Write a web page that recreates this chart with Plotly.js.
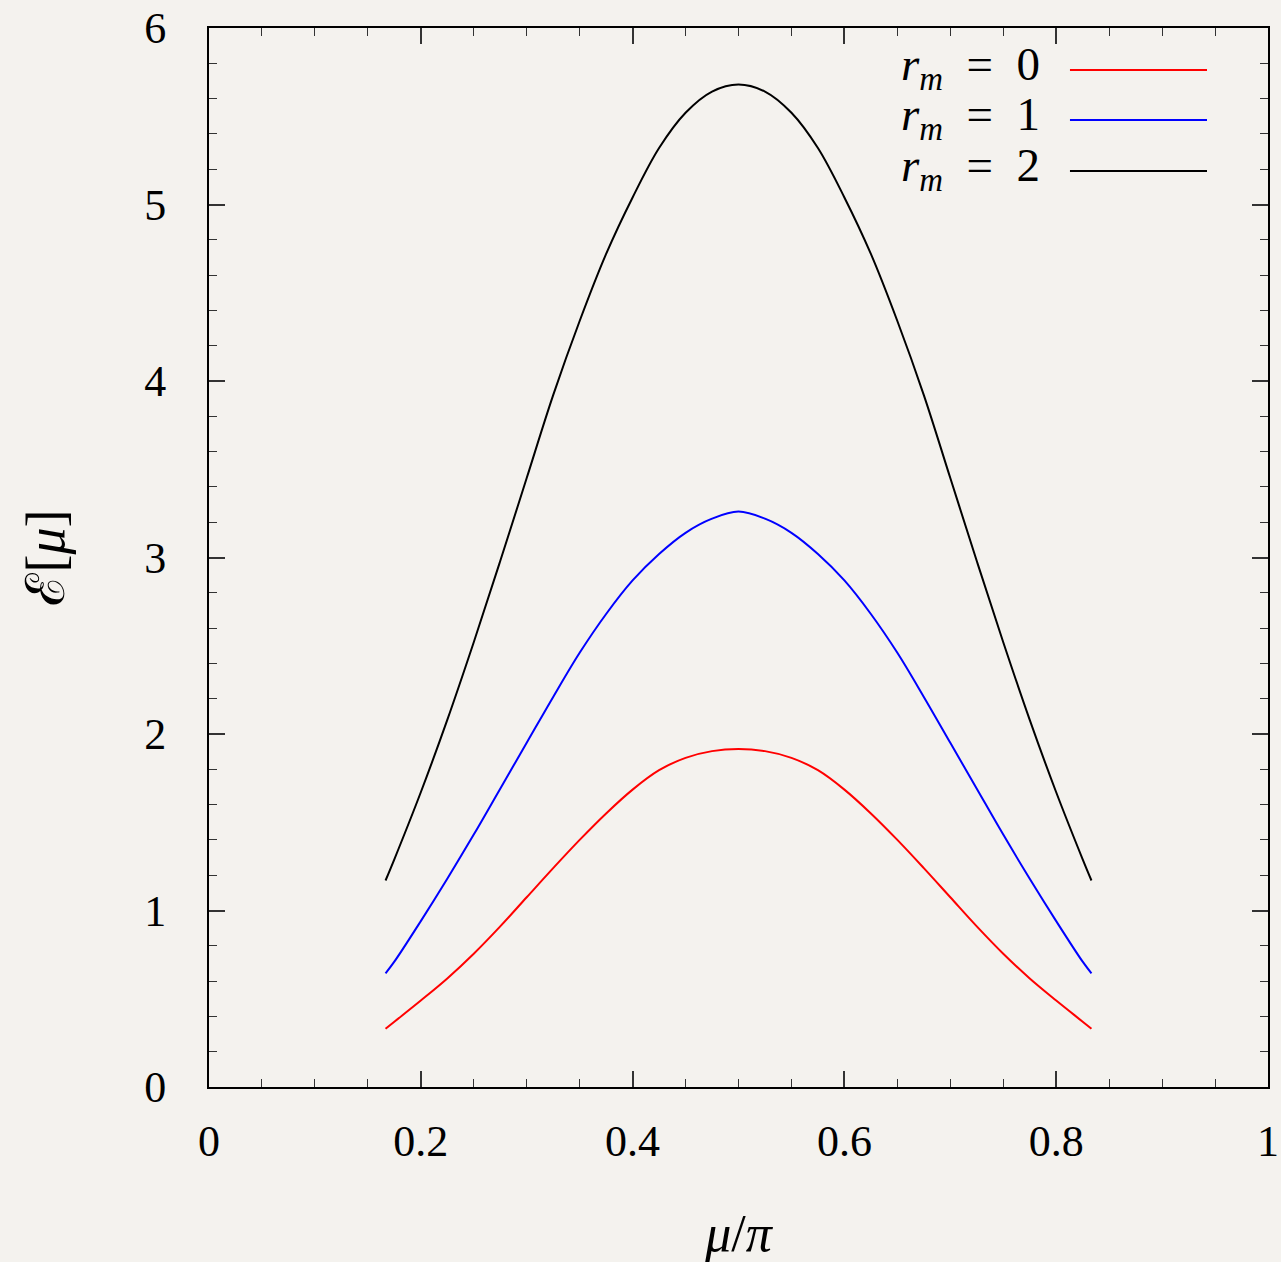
<!DOCTYPE html>
<html>
<head>
<meta charset="utf-8">
<script src="https://cdn.plot.ly/plotly-3.0.1.min.js"></script>
<style>
  html, body { margin: 0; padding: 0; background: #f4f2ee; }
  #chart { width: 1281px; height: 1262px; }
</style>
</head>
<body>
<div id="chart"></div>
<script>
// mu / pi values (x axis)
const muOverPi = [0.1667, 0.175, 0.2, 0.225, 0.25, 0.275, 0.3, 0.325, 0.35, 0.375, 0.4, 0.425, 0.45, 0.475, 0.5,
                  0.525, 0.55, 0.575, 0.6, 0.625, 0.65, 0.675, 0.7, 0.725, 0.75, 0.775, 0.8, 0.825, 0.8333];
// E[mu] for r_m = 0
const energyRm0 = [0.33, 0.37, 0.49, 0.615, 0.755, 0.91, 1.075, 1.24, 1.40, 1.55, 1.685, 1.795, 1.865, 1.903, 1.915,
                   1.903, 1.865, 1.795, 1.685, 1.55, 1.40, 1.24, 1.075, 0.91, 0.755, 0.615, 0.49, 0.37, 0.33];
// E[mu] for r_m = 1
const energyRm1 = [0.644, 0.71, 0.94, 1.18, 1.43, 1.69, 1.95, 2.21, 2.46, 2.68, 2.87, 3.02, 3.14, 3.22, 3.26,
                   3.22, 3.14, 3.02, 2.87, 2.68, 2.46, 2.21, 1.95, 1.69, 1.43, 1.18, 0.94, 0.71, 0.644];
// E[mu] for r_m = 2
const energyRm2 = [1.17, 1.29, 1.67, 2.08, 2.52, 2.98, 3.45, 3.92, 4.34, 4.72, 5.04, 5.32, 5.52, 5.64, 5.68,
                   5.64, 5.52, 5.32, 5.04, 4.72, 4.34, 3.92, 3.45, 2.98, 2.52, 2.08, 1.67, 1.29, 1.17];

const seriesNames = [
  "<i>r</i><sub><i>m</i></sub>&nbsp; = &nbsp;0",
  "<i>r</i><sub><i>m</i></sub>&nbsp; = &nbsp;1",
  "<i>r</i><sub><i>m</i></sub>&nbsp; = &nbsp;2"
];
const seriesColors = ["#ff0000", "#0000ff", "#000000"];
const seriesValues = [energyRm0, energyRm1, energyRm2];

const xTickVals = [0, 0.2, 0.4, 0.6, 0.8, 1];
const xTickText = ["0", "0.2", "0.4", "0.6", "0.8", "1"];
const yTickVals = [0, 1, 2, 3, 4, 5, 6];
const yTickText = ["0", "1", "2", "3", "4", "5", "6"];

const FONT = "'Liberation Serif', 'DejaVu Serif', serif";
const BG = "#f4f2ee";

const traces = seriesValues.map((vals, i) => ({
  type: "scatter",
  mode: "lines",
  x: muOverPi,
  y: vals,
  name: seriesNames[i],
  line: { color: seriesColors[i], width: 2, shape: "spline", smoothing: 1 },
  showlegend: false,
  hoverinfo: "x+y"
}));

// legend drawn gnuplot-style: text on the left, sample line on the right
const legendRows = [0.9603, 0.9131, 0.865];
const annotations = seriesNames.map((n, i) => ({
  xref: "paper", yref: "paper",
  x: 0.787, y: legendRows[i] + 0.002,
  xanchor: "right", yanchor: "middle",
  text: n, showarrow: false,
  font: { family: FONT, size: 47, color: "#000" }
}));
const shapes = seriesColors.map((c, i) => ({
  type: "line", xref: "paper", yref: "paper",
  x0: 0.813, x1: 0.9424, y0: legendRows[i], y1: legendRows[i],
  line: { color: c, width: 2 }
}));

const axisCommon = {
  showline: true, linecolor: "#000", linewidth: 2, mirror: "allticks",
  ticks: "inside", ticklen: 16, tickwidth: 1.5, tickcolor: "#333",
  showgrid: false, zeroline: false,
  tickfont: { family: FONT, size: 44, color: "#000" }
};

const layout = {
  width: 1281, height: 1262,
  margin: { l: 209, r: 13, t: 28, b: 175 },
  paper_bgcolor: BG, plot_bgcolor: BG,
  showlegend: false,
  xaxis: Object.assign({}, axisCommon, {
    range: [0, 1], tickmode: "array", tickvals: xTickVals, ticktext: xTickText,
    ticklabelstandoff: 14,
    minor: { dtick: 0.05, tick0: 0, ticks: "inside", ticklen: 8, tickwidth: 1.2, tickcolor: "#333" },
    title: { text: "<i>μ</i>/<i>π</i>", font: { family: FONT, size: 52, color: "#000" }, standoff: 52 }
  }),
  yaxis: Object.assign({}, axisCommon, {
    range: [0, 6], tickmode: "array", tickvals: yTickVals, ticktext: yTickText,
    ticklabelstandoff: 32,
    minor: { dtick: 0.2, tick0: 0, ticks: "inside", ticklen: 8, tickwidth: 1.2, tickcolor: "#333" },
    title: { text: "ℰ[<i>μ</i>]", font: { family: FONT, size: 54, color: "#000" }, standoff: 62 }
  }),
  annotations: annotations,
  shapes: shapes
};

Plotly.newPlot("chart", traces, layout, { displayModeBar: false, responsive: false });
</script>
</body>
</html>
